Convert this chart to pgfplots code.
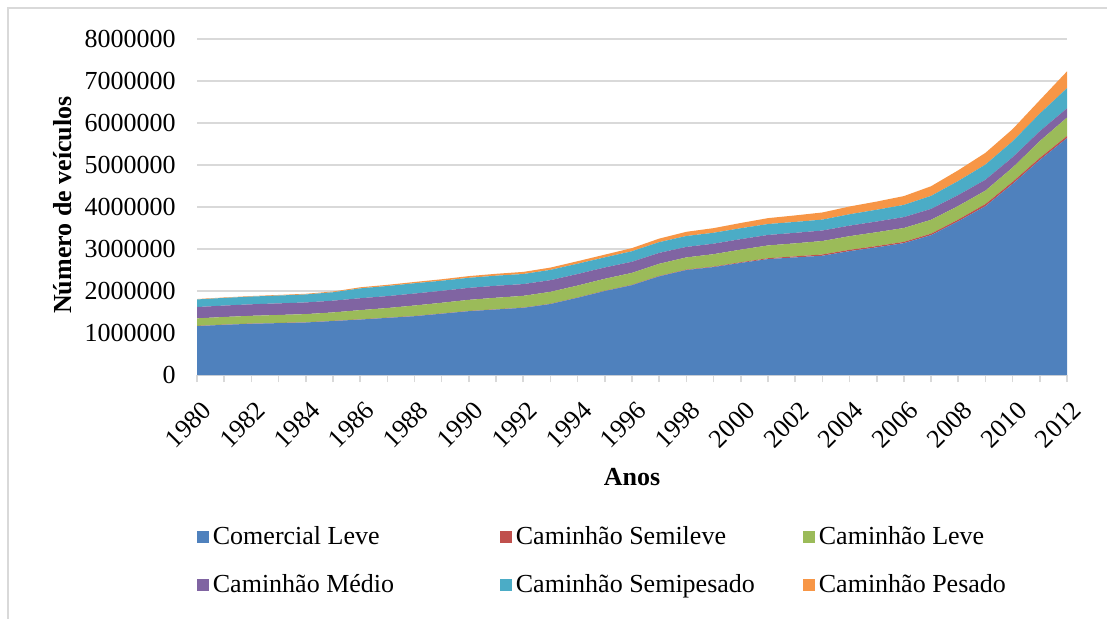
\documentclass[border=0pt]{standalone}
\usepackage{fontspec}
\setmainfont{Liberation Serif}
\usepackage{pgfplots}
\usepackage{pgfplotstable}
\pgfplotsset{compat=1.18}
\definecolor{cA}{HTML}{4F81BD}
\definecolor{cB}{HTML}{C0504D}
\definecolor{cC}{HTML}{9BBB59}
\definecolor{cD}{HTML}{8064A2}
\definecolor{cE}{HTML}{4BACC6}
\definecolor{cF}{HTML}{F79646}
\definecolor{gridc}{HTML}{D9D9D9}
\pgfplotstableread{
year cl sl le me sp pe
1980 1164000 5000 180000 270000 180000 10000
1981 1195000 5000 182000 272000 182000 10000
1982 1220000 5000 185000 274000 184000 12000
1983 1235000 5000 190000 276000 186000 14000
1984 1250000 5000 195000 278000 190000 16000
1985 1285000 5000 200000 280000 200000 18000
1986 1320000 5000 220000 283000 235000 25000
1987 1360000 5000 230000 284000 240000 28000
1988 1400000 5000 250000 285000 245000 30000
1989 1460000 5000 255000 285000 240000 35000
1990 1520000 5000 265000 285000 240000 40000
1991 1560000 5000 275000 285000 240000 45000
1992 1600000 5000 280000 280000 240000 50000
1993 1690000 5000 285000 278000 245000 55000
1994 1840000 5000 285000 275000 245000 60000
1995 2000000 6000 285000 270000 240000 65000
1996 2140000 7000 285000 265000 250000 75000
1997 2350000 8000 290000 260000 255000 85000
1998 2500000 10000 290000 250000 260000 100000
1999 2570000 12000 295000 250000 260000 110000
2000 2670000 15000 300000 250000 260000 125000
2001 2760000 20000 305000 250000 260000 140000
2002 2800000 25000 310000 250000 260000 155000
2003 2840000 30000 320000 250000 260000 170000
2004 2950000 30000 325000 252000 270000 185000
2005 3040000 30000 330000 255000 280000 195000
2006 3140000 30000 330000 260000 290000 210000
2007 3330000 35000 330000 260000 310000 230000
2008 3660000 40000 325000 260000 335000 255000
2009 4020000 50000 320000 260000 360000 280000
2010 4550000 50000 340000 245000 380000 290000
2011 5120000 50000 400000 235000 420000 320000
2012 5640000 50000 440000 220000 480000 400000
}\data
\begin{document}
\begin{tikzpicture}
\begin{axis}[
  at={(98.5pt,-187.5pt)}, anchor=south west,
  scale only axis, width=435pt, height=168pt,
  font=\fontsize{13}{15.6}\selectfont,
  xmin=1980, xmax=2012, ymin=0, ymax=8000000,
  stack plots=y,
  axis lines*=left,
  y axis line style={draw=none},
  x axis line style={gridc, line width=1pt},
  scaled y ticks=false,
  ytick={0,1000000,2000000,3000000,4000000,5000000,6000000,7000000,8000000},
  yticklabels={0,1000000,2000000,3000000,4000000,5000000,6000000,7000000,8000000},
  ytick style={draw=none},
  yticklabel style={inner sep=0pt, xshift=-7pt},
  ymajorgrids, grid style={gridc, line width=0.8pt},
  xtick={1980,1982,...,2012},
  xticklabels={1980,1982,1984,1986,1988,1990,1992,1994,1996,1998,2000,2002,2004,2006,2008,2010,2012},
  minor xtick={1981,1983,...,2011},
  xtick style={gridc, line width=0.8pt},
  tick align=outside, major tick length=3.5pt, minor tick length=3.5pt,
  xticklabel style={rotate=45, anchor=east, inner sep=0pt, yshift=-12pt, xshift=-5pt},
  xlabel={\bfseries Anos},
  xlabel style={at={(axis description cs:0.5,-0.304)}, anchor=center},
  ylabel={\bfseries Número de veículos},
  ylabel style={at={(axis description cs:-0.155,0.506)}, anchor=center},
  legend columns=3,
  legend cell align=left,
  legend image code/.code={\fill[#1] (0pt,-3pt) rectangle (6pt,3pt);},
  legend style={at={(axis description cs:0,-0.44)}, anchor=north west,
    draw=none, fill=none, inner sep=0pt, column sep=0pt, row sep=10pt,
    nodes={inner sep=1.75pt}},
]
\addplot[fill=cA, draw=none] table[x=year, y=cl] {\data} \closedcycle;
\addlegendentry{\makebox[142pt][l]{Comercial Leve}}
\addplot[fill=cB, draw=none] table[x=year, y=sl] {\data} \closedcycle;
\addlegendentry{\makebox[142pt][l]{Caminhão Semileve}}
\addplot[fill=cC, draw=none] table[x=year, y=le] {\data} \closedcycle;
\addlegendentry{\makebox[142pt][l]{Caminhão Leve}}
\addplot[fill=cD, draw=none] table[x=year, y=me] {\data} \closedcycle;
\addlegendentry{\makebox[142pt][l]{Caminhão Médio}}
\addplot[fill=cE, draw=none] table[x=year, y=sp] {\data} \closedcycle;
\addlegendentry{\makebox[142pt][l]{Caminhão Semipesado}}
\addplot[fill=cF, draw=none] table[x=year, y=pe] {\data} \closedcycle;
\addlegendentry{\makebox[142pt][l]{Caminhão Pesado}}
\end{axis}
\draw[gridc, line width=1pt] (4pt,-312pt) -- (4pt,-4pt) -- (560pt,-4pt);
\pgfresetboundingbox
\useasboundingbox (0pt,0pt) rectangle (553.5pt,-309pt);
\end{tikzpicture}
\end{document}
